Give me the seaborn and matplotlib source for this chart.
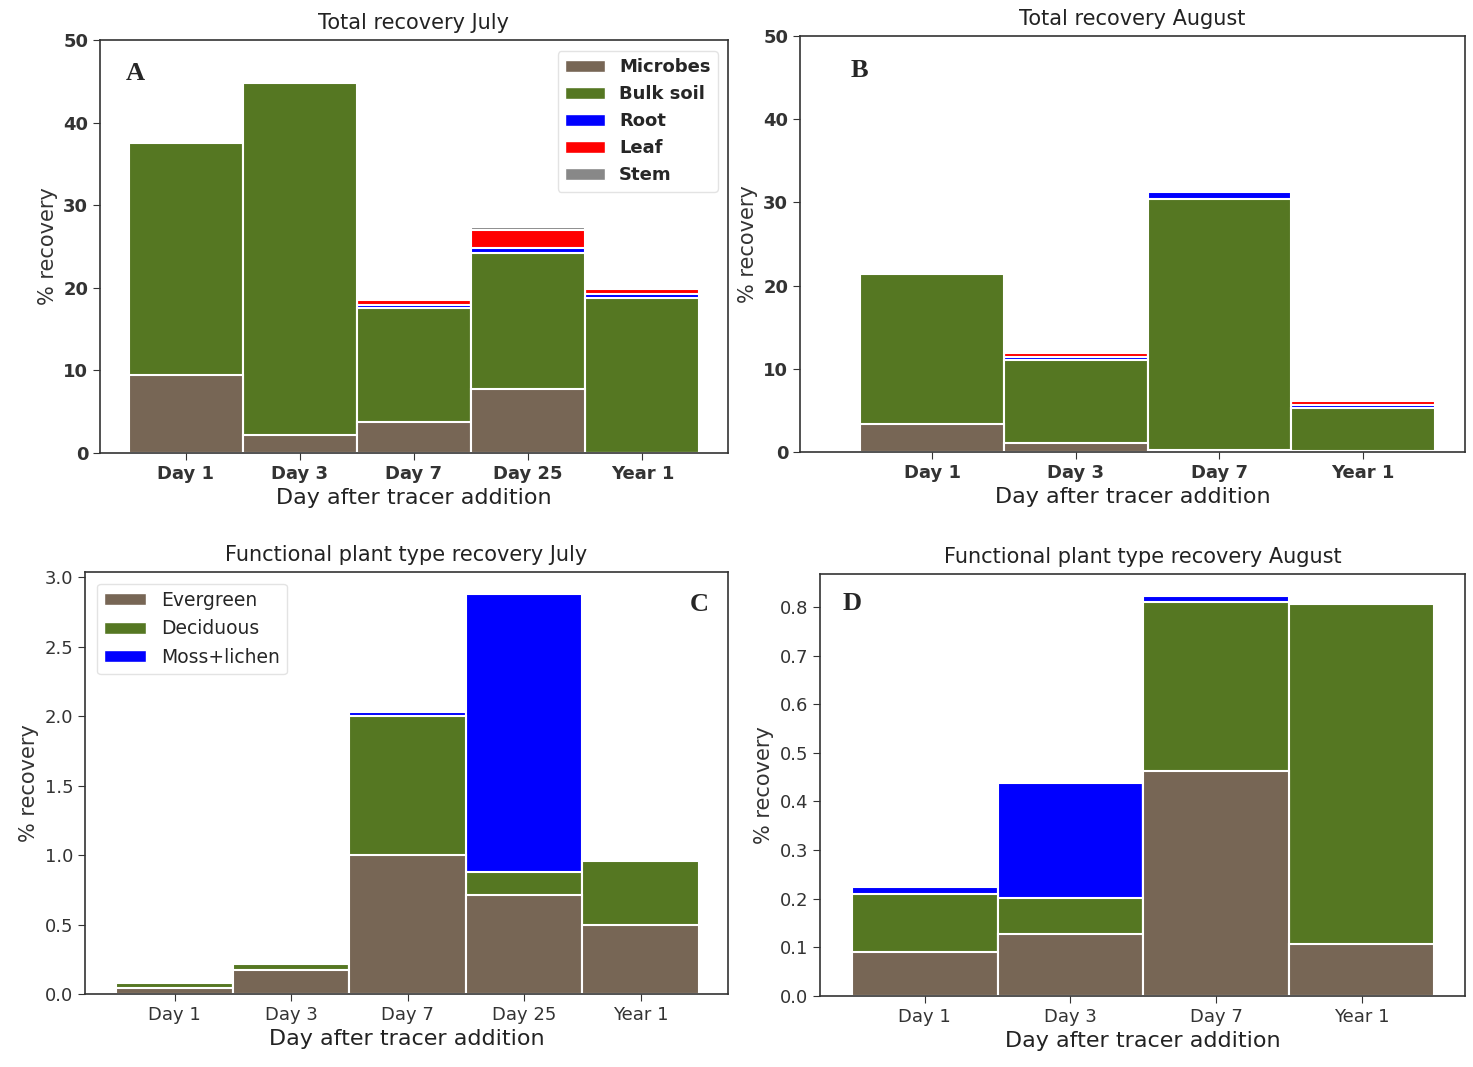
import numpy as np
import pandas as pd
import matplotlib
matplotlib.use('Agg')
import matplotlib.pyplot as plt
from matplotlib.patches import Patch
import seaborn as sns

sns.set_style("ticks")
plt.rcParams['font.family'] = ['DejaVu Sans']

days_jul = ["Day 1", "Day 3", "Day 7", "Day 25", "Year 1"]
days_aug = ["Day 1", "Day 3", "Day 7", "Year 1"]

# A - total recovery July
jul_microbes = [9.4, 2.2, 3.75, 7.75, 0.0]
jul_bulk = [28.1, 42.6, 13.8, 16.5, 18.75]
jul_root = [0.0, 0.0, 0.4, 0.6, 0.5]
jul_leaf = [0.0, 0.0, 0.6, 2.1, 0.6]
jul_stem = [0.0, 0.0, 0.15, 0.4, 0.1]

# B - total recovery August
aug_microbes = [3.4, 1.1, 0.2, 0.1]
aug_bulk = [18.0, 9.95, 30.2, 5.2]
aug_root = [0.0, 0.4, 0.9, 0.4]
aug_leaf = [0.0, 0.4, 0.0, 0.4]
aug_stem = [0.0, 0.0, 0.0, 0.0]

# C - functional plant type July
jul_evergreen = [0.04, 0.17, 1.0, 0.71, 0.50]
jul_deciduous = [0.04, 0.045, 1.0, 0.17, 0.455]
jul_moss = [0.0, 0.0, 0.03, 2.0, 0.0]

# D - functional plant type August
aug_evergreen = [0.091, 0.128, 0.463, 0.107]
aug_deciduous = [0.119, 0.074, 0.348, 0.70]
aug_moss = [0.014, 0.236, 0.012, 0.0]

pool_names = ["Microbes", "Bulk soil", "Root", "Leaf", "Stem"]
pool_colors = ["#776655", "#557722", "#0000ff", "#ff0000", "#888888"]
pft_names = ["Evergreen", "Deciduous", "Moss+lichen"]
pft_colors = ["#776655", "#557722", "#0000ff"]


def stacked(ax, cats, layers, colors):
    # draw cumulative totals from the top layer down so lower layers cover them
    tops = np.cumsum(np.array(layers), axis=0)
    for i in range(len(layers) - 1, -1, -1):
        df = pd.DataFrame({"day": cats, "value": tops[i]})
        sns.barplot(data=df, x="day", y="value", order=cats, color=colors[i],
                    width=1, edgecolor="white", linewidth=1.5, saturation=1,
                    errorbar=None, ax=ax)


fig = plt.figure(figsize=(14.73, 10.67), dpi=100)
axA = fig.add_axes([0.0679, 0.5754, 0.4263, 0.3871])
axB = fig.add_axes([0.5431, 0.5764, 0.4515, 0.3899])
axC = fig.add_axes([0.0577, 0.0684, 0.4365, 0.3955])
axD = fig.add_axes([0.5567, 0.0666, 0.4379, 0.3955])

stacked(axA, days_jul, [jul_microbes, jul_bulk, jul_root, jul_leaf, jul_stem], pool_colors)
stacked(axB, days_aug, [aug_microbes, aug_bulk, aug_root, aug_leaf, aug_stem], pool_colors)
stacked(axC, days_jul, [jul_evergreen, jul_deciduous, jul_moss], pft_colors)
stacked(axD, days_aug, [aug_evergreen, aug_deciduous, aug_moss], pft_colors)

axA.set_xlim(-0.75, 4.75)
axA.set_ylim(0, 50)
axB.set_xlim(-0.92, 3.71)
axB.set_ylim(0, 50)
axC.set_xlim(-0.77, 4.75)
axC.set_ylim(0, 3.036)
axC.set_yticks([0, 0.5, 1.0, 1.5, 2.0, 2.5, 3.0])
axD.set_xlim(-0.72, 3.71)
axD.set_ylim(0, 0.868)
axD.set_yticks([0, 0.1, 0.2, 0.3, 0.4, 0.5, 0.6, 0.7, 0.8])

titles = {axA: "Total recovery July", axB: "Total recovery August",
          axC: "Functional plant type recovery July",
          axD: "Functional plant type recovery August"}

for ax in [axA, axB, axC, axD]:
    ax.set_title(titles[ax], fontsize=15, color="#222222", pad=8)
    ax.set_xlabel("Day after tracer addition", fontsize=16, color="#222222")
    ax.set_ylabel("% recovery", fontsize=15, color="#333333")
    for s in ax.spines.values():
        s.set_color("#333333")
        s.set_linewidth(1.2)
    ax.tick_params(colors="#333333", labelsize=13, length=5)

for ax in [axA, axB]:
    for lab in ax.get_xticklabels() + ax.get_yticklabels():
        lab.set_fontweight("bold")

axC.set_yticklabels(["0.0", "0.5", "1.0", "1.5", "2.0", "2.5", "3.0"])

letters = [(axA, "A", 0.056, 0.92), (axB, "B", 0.09, 0.918),
           (axC, "C", 0.956, 0.924), (axD, "D", 0.05, 0.929)]
for ax, t, x, y in letters:
    ax.text(x, y, t, transform=ax.transAxes, ha="center", va="center",
            fontsize=19, fontweight="bold", family="Liberation Serif")

hA = [Patch(facecolor=c, edgecolor="white", label=n) for n, c in zip(pool_names, pool_colors)]
axA.legend(handles=hA, loc="upper right", bbox_to_anchor=(0.998, 0.995),
           prop={"weight": "bold", "size": 13}, handlelength=2.2, handleheight=0.6,
           frameon=True, edgecolor="#dddddd")
hC = [Patch(facecolor=c, edgecolor="white", label=n) for n, c in zip(pft_names, pft_colors)]
axC.legend(handles=hC, loc="upper left", bbox_to_anchor=(0.004, 0.995),
           prop={"size": 13.5}, handlelength=2.2, handleheight=0.6,
           frameon=True, edgecolor="#dddddd")

plt.savefig("out.png", dpi=100)
